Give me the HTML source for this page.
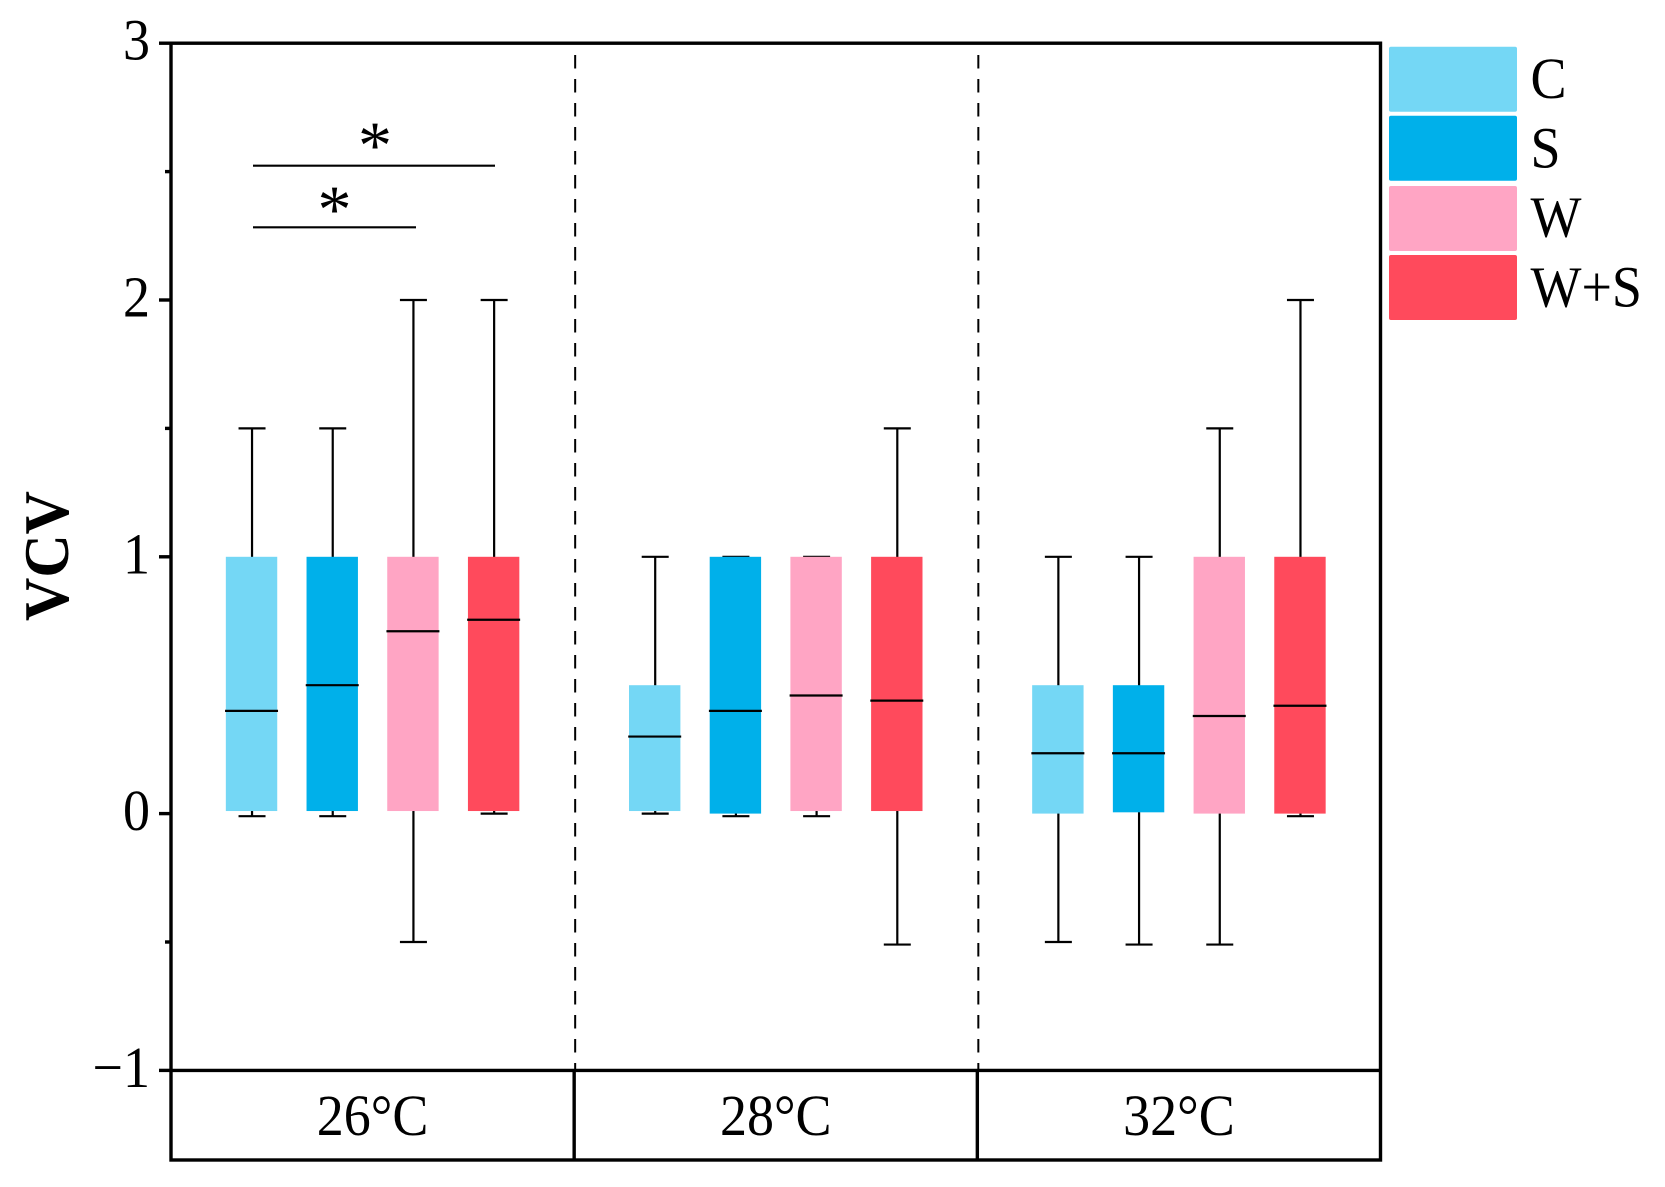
<!DOCTYPE html>
<html>
<head>
<meta charset="utf-8">
<title>VCV box plot</title>
<style>
html,body{margin:0;padding:0;background:#fff;width:1665px;height:1187px;overflow:hidden}
svg{display:block}
text{font-family:"Liberation Serif","DejaVu Serif",serif;fill:#000}
</style>
</head>
<body>
<svg id="chart" xmlns="http://www.w3.org/2000/svg" width="1665" height="1187" viewBox="0 0 1665 1187">
  <rect x="0" y="0" width="1665" height="1187" fill="#fff"/>
  <g id="marks"></g>
  <g id="axes"></g>
  <text transform="translate(68,556) rotate(-90) scale(1,1.06)" text-anchor="middle" font-size="60" font-weight="bold">VCV</text>
  <g>
    <line x1="253" x2="495" y1="165.7" y2="165.7" stroke="#000" stroke-width="2.2"/>
    <line x1="253" x2="416" y1="227.3" y2="227.3" stroke="#000" stroke-width="2.2"/>
    <text x="375" y="168" text-anchor="middle" font-size="68">*</text>
    <text x="334.5" y="232" text-anchor="middle" font-size="68">*</text>
  </g>
  <g id="legend"></g>
</svg>
<script>
var treatments = ['C', 'S', 'W', 'W+S'];
var temperatures = ['26°C', '28°C', '32°C'];
var yMajorTicks = [3, 2, 1, 0, -1];
var yMinorTicks = [2.5, 1.5, -0.5];
var yTickLabels = ['3', '2', '1', '0', '−1'];
var whiskerHigh = [
  [1.5, 1.5, 2, 2],
  [1, 1, 1, 1.5],
  [1, 1, 1.5, 2]
];
var boxTop = [
  [1, 1, 1, 1],
  [0.5, 1, 1, 1],
  [0.5, 0.5, 1, 1]
];
var medians = [
  [0.4, 0.5, 0.71, 0.755],
  [0.3, 0.4, 0.46, 0.44],
  [0.235, 0.235, 0.38, 0.42]
];
var boxBottom = [
  [0.01, 0.01, 0.01, 0.01],
  [0.01, 0, 0.01, 0.01],
  [0, 0.005, 0, 0]
];
var whiskerLow = [
  [-0.01, -0.01, -0.5, 0],
  [0, -0.01, -0.01, -0.51],
  [-0.5, -0.51, -0.51, -0.01]
];
var swatchColors = ['#74d7f5', '#00b0ea', '#ffa5c4', '#ff4a5c'];

var NS = 'http://www.w3.org/2000/svg';
var plotLeft = 171, plotRight = 1380.5, panelBottom = 1160;

function yScale(v) { return 813.6 - 256.8 * v; }
function groupLeft(g) { return plotLeft + g * (plotRight - plotLeft) / temperatures.length; }
function groupCenter(g) { return groupLeft(g + 0.5); }
function xScale(g, i) { return groupCenter(g) + (i - 1.5) * 80.7; }

function make(tag, parent, attrs) {
  var el = document.createElementNS(NS, tag);
  for (var k in attrs) { el.setAttribute(k, attrs[k]); }
  parent.appendChild(el);
  return el;
}
function strokeLine(parent, x1, y1, x2, y2, w, dash) {
  var attrs = { x1: x1, y1: y1, x2: x2, y2: y2, stroke: '#000', 'stroke-width': w };
  if (dash) { attrs['stroke-dasharray'] = dash; }
  return make('line', parent, attrs);
}
function tallText(parent, x, y, anchor, content) {
  var el = make('text', parent, {
    transform: 'translate(' + x + ',' + y + ') scale(1,1.08)',
    'text-anchor': anchor,
    'font-size': 54
  });
  el.textContent = content;
  return el;
}

var marks = document.getElementById('marks');
var axes = document.getElementById('axes');
var legend = document.getElementById('legend');

temperatures.forEach(function (temp, g) {
  treatments.forEach(function (tr, i) {
    var x = xScale(g, i);
    var wx = x + 0.5;
    var group = make('g', marks, {});
    
    

    var whisker = strokeLine(group, wx, yScale(whiskerHigh[g][i]), wx, yScale(whiskerLow[g][i]), 2.2);
    
    

    var capHigh = strokeLine(group, wx - 13.5, yScale(whiskerHigh[g][i]), wx + 13.5, yScale(whiskerHigh[g][i]), 2.2);
    
    

    var capLow = strokeLine(group, wx - 13.5, yScale(whiskerLow[g][i]), wx + 13.5, yScale(whiskerLow[g][i]), 2.2);
    
    

    var box = make('rect', group, {
      x: x - 25.7,
      y: yScale(boxTop[g][i]),
      width: 51.4,
      height: yScale(boxBottom[g][i]) - yScale(boxTop[g][i]),
      fill: swatchColors[i]
    });
    
    

    var median = strokeLine(group, x - 26.5, yScale(medians[g][i]), x + 26.5, yScale(medians[g][i]), 2.2);
    
    
  });
});

[1, 2].forEach(function (g) {
  var dashed = strokeLine(marks, groupLeft(g) + 1, 55, groupLeft(g) + 1, yScale(-1), 2, '13.5 10.5');
  
  
});

var frame = make('rect', axes, {
  x: plotLeft, y: yScale(3), width: plotRight - plotLeft, height: panelBottom - yScale(3),
  fill: 'none', stroke: '#000', 'stroke-width': 3.4
});



var panelLine = strokeLine(axes, plotLeft, yScale(-1), plotRight, yScale(-1), 3.4);



yMajorTicks.forEach(function (v, idx) {
  var tick = strokeLine(axes, plotLeft - 12, yScale(v), plotLeft, yScale(v), 3.4);
  
  

  var label = tallText(axes, 150, yScale(v) + 16.5, 'end', yTickLabels[idx]);
  
  
});

yMinorTicks.forEach(function (v) {
  var tick = strokeLine(axes, plotLeft - 6, yScale(v), plotLeft, yScale(v), 3.4);
  
  
});

temperatures.forEach(function (temp, g) {
  if (g > 0) {
    var sep = strokeLine(axes, groupLeft(g), yScale(-1), groupLeft(g), panelBottom, 3.4);
    
    
  }
  var cat = tallText(axes, groupCenter(g), 1135, 'middle', temp);
  
  
});

var swatchTops = [46.7, 115.7, 186, 255];
var swatchBaselines = [98, 167.5, 236.5, 306.5];
treatments.forEach(function (tr, i) {
  var item = make('g', legend, {});
  
  

  var sw = make('rect', item, {
    x: 1389, y: swatchTops[i], width: 128, height: 65, rx: 2, ry: 2, fill: swatchColors[i]
  });
  
  

  var t = tallText(item, 1530.5, swatchBaselines[i], 'start', tr);
  
  
});
</script>
</body>
</html>
